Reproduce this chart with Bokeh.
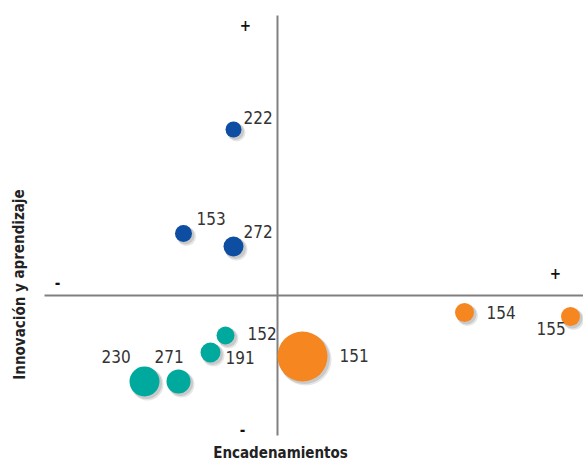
from bokeh.plotting import figure
from bokeh.models import Range1d, Label, ColumnDataSource
from bokeh.core.properties import value
from bokeh.embed import file_html
from bokeh.resources import INLINE

# ---- data (arbitrary quadrant scores; origin = quadrant crossing) ----
labels = ["222", "153", "272", "152", "191", "230", "271", "151", "154", "155"]
encadenamientos = [-0.44, -0.94, -0.44, -0.52, -0.67, -1.33, -0.99, 0.25, 1.87, 2.93]
innovacion = [1.66, 0.62, 0.49, -0.40, -0.57, -0.86, -0.86, -0.61, -0.17, -0.21]
magnitude = [16, 17, 20, 18, 20, 30, 24, 50, 19, 19]
group = ["blue", "blue", "blue", "teal", "teal", "teal", "teal", "orange", "orange", "orange"]
palette = {"blue": "#0D4EA2", "teal": "#00A99D", "orange": "#F6861F"}

# label offsets (screen px, +y = down)
lab_dx = [10, 13, 10, 22, 15, -43, -24, 37, 22, -34]
lab_dy = [-12, -15, -15, -2, 5, -25, -25, -1, 0, 12]

FONT = "DejaVu Sans Condensed"
W, H = 583, 461
# ref pixel -> data: x = (px-277)/100, y = (295-py)/100
x0, y0 = (0 - 277) / 100, (295 - H) / 100
x1, y1 = (W - 277) / 100, (295 - 0) / 100

p = figure(width=W, height=H, output_backend="svg", toolbar_location=None,
           x_range=Range1d(x0, x1), y_range=Range1d(y0, y1),
           min_border=0, outline_line_color=None)
p.axis.visible = False
p.grid.visible = False

# quadrant lines
p.segment(x0=[0], y0=[(295 - 435) / 100], x1=[0], y1=[(295 - 15) / 100],
          line_color="#808080", line_width=2)
p.segment(x0=[(44 - 277) / 100], y0=[0], x1=[x1], y1=[0],
          line_color="#808080", line_width=2)

src = ColumnDataSource(dict(
    x=encadenamientos, y=innovacion, size=magnitude,
    color=[palette[g] for g in group], label=labels,
    dx=lab_dx, dy=lab_dy,
))

# soft shadows
for i, (ox, oy, a) in enumerate([(0.03, -0.03, 0.15), (0.02, -0.02, 0.2)]):
    sh = ColumnDataSource(dict(x=[v + ox for v in encadenamientos],
                               y=[v + oy for v in innovacion],
                               size=[m + 2 - i for m in magnitude]))
    p.scatter("x", "y", size="size", source=sh, fill_color="#555555",
              fill_alpha=a, line_color=None)

p.scatter("x", "y", size="size", source=src, fill_color="color",
          line_color=None)

p.text("x", "y", text="label", x_offset="dx", y_offset="dy", source=src,
       text_font=value(FONT), text_font_size="17px",
       text_color="#333333", text_baseline="middle", text_align="left")

# quadrant signs
signs = [("+", -0.32, 2.71), ("+", 2.78, 0.23), ("-", -2.2, 0.14), ("-", -0.35, -1.33)]
for s, sx, sy in signs:
    p.add_layout(Label(x=sx, y=sy, text=s, text_font=FONT,
                       text_font_size="15px", text_font_style="bold",
                       text_color="#111111", text_align="center", text_baseline="middle"))

p.add_layout(Label(x=(280 - 277) / 100, y=(295 - 452) / 100, text="Encadenamientos",
                   text_font=FONT, text_font_size="15px",
                   text_font_style="bold", text_color="#222222",
                   text_align="center", text_baseline="middle"))
p.add_layout(Label(x=(19 - 277) / 100, y=(295 - 284) / 100, text="Innovación y aprendizaje",
                   text_font=FONT, text_font_size="15px",
                   text_font_style="bold", text_color="#222222", angle=1.5708,
                   text_align="center", text_baseline="middle"))

open("out.html", "w").write(file_html(p, INLINE))
